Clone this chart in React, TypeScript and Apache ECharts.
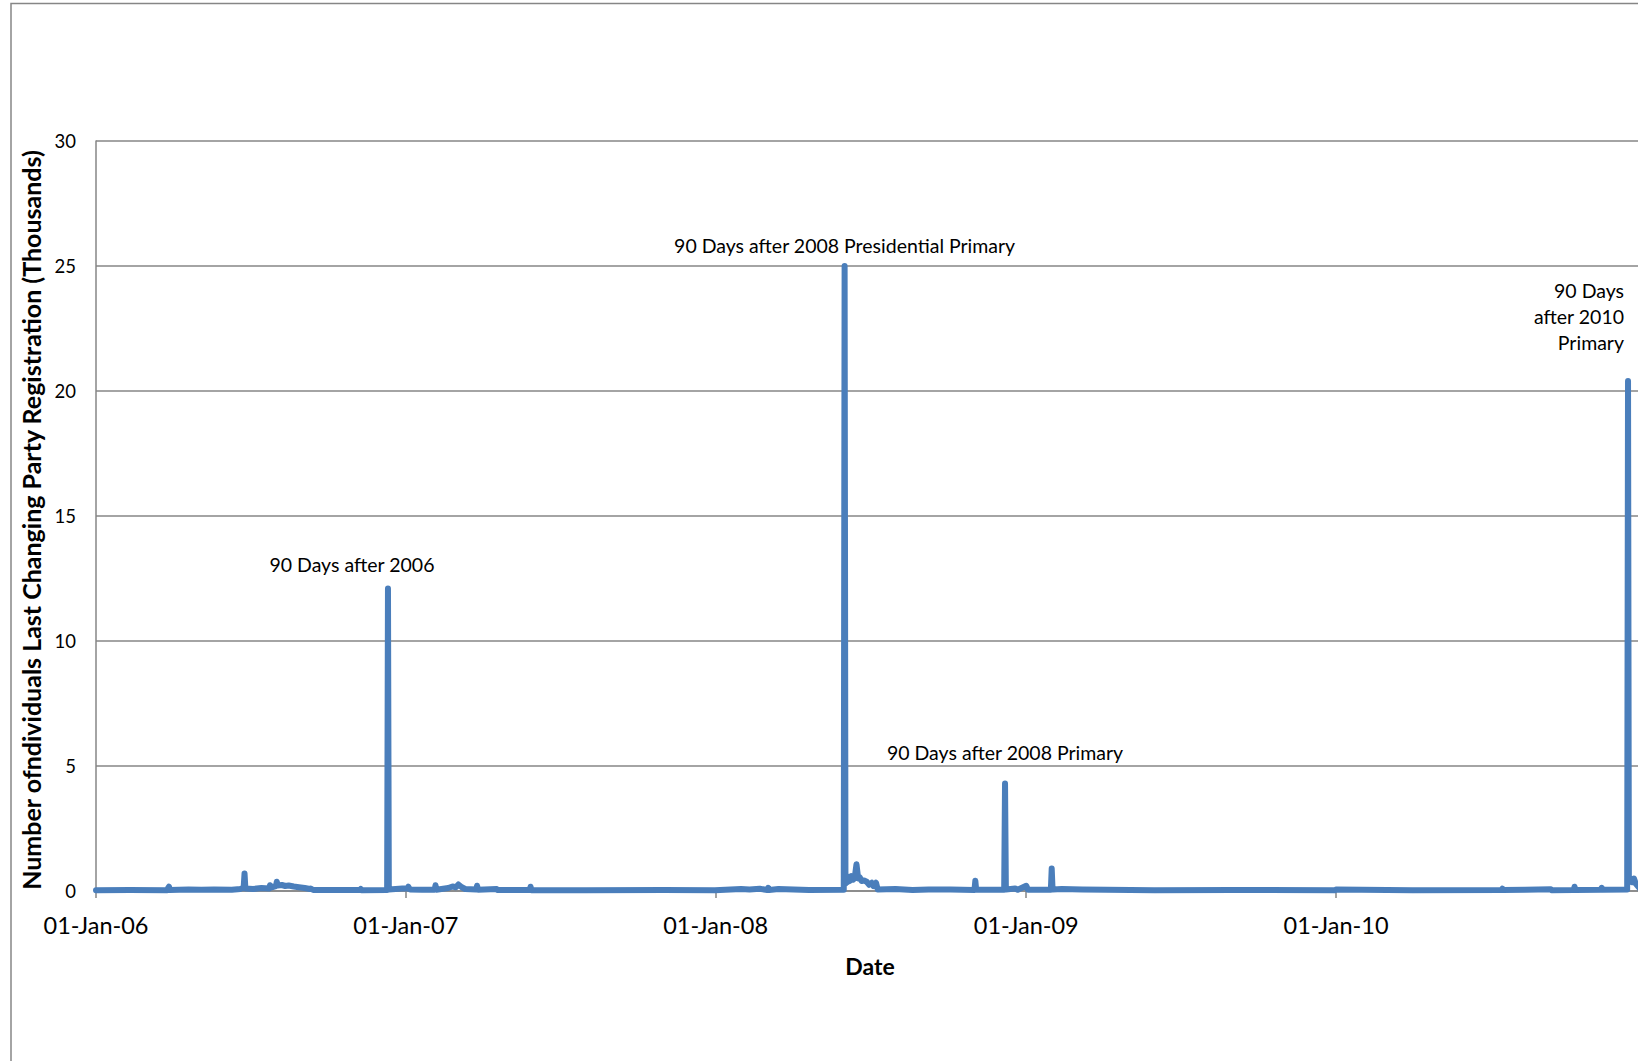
import React, { useEffect, useRef } from "react";
import * as echarts from "echarts";

// Daily counts (thousands) of individuals by the date they last changed party registration.
// Only dates where the count departs from the near-zero baseline are listed.
const points2006: [string, number][] = [
  ["2006-01-01", 0.03], ["2006-02-10", 0.04], ["2006-03-26", 0.03], ["2006-03-27", 0.12],
  ["2006-03-28", 0.17], ["2006-03-29", 0.04], ["2006-04-20", 0.06], ["2006-05-05", 0.05],
  ["2006-05-20", 0.06], ["2006-06-10", 0.05], ["2006-06-20", 0.08], ["2006-06-23", 0.12],
  ["2006-06-24", 0.15], ["2006-06-25", 0.7], ["2006-06-26", 0.1], ["2006-07-05", 0.08],
  ["2006-07-15", 0.12], ["2006-07-24", 0.1], ["2006-07-25", 0.23], ["2006-07-26", 0.14],
  ["2006-07-30", 0.18], ["2006-08-01", 0.2], ["2006-08-02", 0.37], ["2006-08-03", 0.22],
  ["2006-08-08", 0.24], ["2006-08-12", 0.2], ["2006-08-16", 0.22], ["2006-08-22", 0.18],
  ["2006-08-28", 0.15], ["2006-09-04", 0.12], ["2006-09-10", 0.08], ["2006-09-11", 0.1],
  ["2006-09-14", 0.04], ["2006-10-10", 0.04], ["2006-11-08", 0.04], ["2006-11-09", 0.08],
  ["2006-11-10", 0.03], ["2006-12-10", 0.04], ["2006-12-11", 12.1], ["2006-12-12", 0.06],
  ["2006-12-20", 0.08], ["2006-12-28", 0.1],
];

const points2007: [string, number][] = [
  ["2007-01-03", 0.1], ["2007-01-04", 0.17], ["2007-01-06", 0.06], ["2007-01-20", 0.05],
  ["2007-02-04", 0.05], ["2007-02-05", 0.23], ["2007-02-06", 0.05], ["2007-02-20", 0.12],
  ["2007-02-25", 0.18], ["2007-03-01", 0.15], ["2007-03-04", 0.26], ["2007-03-08", 0.15],
  ["2007-03-12", 0.08], ["2007-03-25", 0.06], ["2007-03-26", 0.21], ["2007-03-27", 0.05],
  ["2007-04-18", 0.08], ["2007-04-19", 0.04], ["2007-05-27", 0.04], ["2007-05-28", 0.17],
  ["2007-05-29", 0.03], ["2007-08-01", 0.03], ["2007-11-01", 0.04], ["2007-12-31", 0.03],
];

const points2008: [string, number][] = [
  ["2008-01-31", 0.08], ["2008-02-10", 0.06], ["2008-02-22", 0.09], ["2008-03-02", 0.04],
  ["2008-03-03", 0.13], ["2008-03-04", 0.04], ["2008-03-15", 0.08], ["2008-04-20", 0.04],
  ["2008-05-31", 0.05], ["2008-06-01", 25.0], ["2008-06-02", 0.3], ["2008-06-03", 0.55],
  ["2008-06-04", 0.35], ["2008-06-05", 0.57], ["2008-06-07", 0.4], ["2008-06-09", 0.6],
  ["2008-06-11", 0.45], ["2008-06-13", 0.55], ["2008-06-15", 1.07], ["2008-06-17", 0.5],
  ["2008-06-19", 0.54], ["2008-06-21", 0.4], ["2008-06-24", 0.42], ["2008-06-27", 0.37],
  ["2008-06-30", 0.25], ["2008-07-03", 0.33], ["2008-07-05", 0.2], ["2008-07-08", 0.33],
  ["2008-07-10", 0.06], ["2008-07-31", 0.08], ["2008-08-20", 0.04], ["2008-09-08", 0.06],
  ["2008-10-04", 0.06], ["2008-11-01", 0.04], ["2008-11-02", 0.41], ["2008-11-03", 0.05],
  ["2008-12-06", 0.05], ["2008-12-07", 4.3], ["2008-12-08", 0.06], ["2008-12-19", 0.1],
  ["2008-12-22", 0.05],
];

const points2009: [string, number][] = [
  ["2009-01-01", 0.21], ["2009-01-03", 0.05], ["2009-01-30", 0.05], ["2009-01-31", 0.9],
  ["2009-02-01", 0.06], ["2009-02-12", 0.08], ["2009-03-08", 0.06], ["2009-06-01", 0.03],
  ["2009-09-01", 0.04], ["2009-12-31", 0.03],
];

const points2010: [string, number][] = [
  ["2010-01-01", 0.06], ["2010-04-01", 0.03], ["2010-07-15", 0.04], ["2010-07-16", 0.09],
  ["2010-07-17", 0.04], ["2010-08-12", 0.05], ["2010-09-11", 0.07],
  ["2010-09-12", 0.03], ["2010-10-08", 0.04], ["2010-10-09", 0.17], ["2010-10-10", 0.04],
  ["2010-11-09", 0.05], ["2010-11-10", 0.13], ["2010-11-11", 0.05], ["2010-12-10", 0.06],
  ["2010-12-11", 20.4], ["2010-12-12", 0.4], ["2010-12-14", 0.5], ["2010-12-16", 0.35],
  ["2010-12-18", 0.5], ["2010-12-20", 0.3], ["2010-12-25", 0.1], ["2010-12-31", 0.05],
];

// Annotated peaks: date, value, label text, label placement
const annotations: { date: string; value: number; text: string; align: string; offsetX: number; distance: number }[] = [
  { date: "2006-12-11", value: 12.1, text: "90 Days after 2006", align: "center", offsetX: -36, distance: 11 },
  { date: "2008-06-01", value: 25.0, text: "90 Days after 2008 Presidential Primary", align: "center", offsetX: 0, distance: 8 },
  { date: "2008-12-07", value: 4.3, text: "90 Days after 2008 Primary", align: "center", offsetX: 0, distance: 18 },
  { date: "2010-12-11", value: 20.4, text: "90 Days\nafter 2010\nPrimary", align: "right", offsetX: -4, distance: 26 },
];

const yTicks = { min: 0, max: 30, step: 5 };
const axisStart = "2006-01-01";
const axisEnd = "2010-12-31";
const months = ["Jan", "Feb", "Mar", "Apr", "May", "Jun", "Jul", "Aug", "Sep", "Oct", "Nov", "Dec"];

const yTitle = "Number ofndividuals Last Changing Party Registration (Thousands)";
const xTitle = "Date";

const FONT = "Lato";
const LINE_BLUE = "#4A7EBB";
const GRID_GRAY = "#868686";

function toTime(s: string): number {
  const [y, m, d] = s.split("-").map(Number);
  return new Date(y, m - 1, d).getTime();
}

function formatDay(v: number): string {
  const d = new Date(v);
  if (d.getMonth() !== 0 || d.getDate() !== 1) return "";
  const yy = String(d.getFullYear() % 100).padStart(2, "0");
  return `01-${months[0]}-${yy}`;
}

export default function App() {
  const ref = useRef<HTMLDivElement>(null);

  useEffect(() => {
    if (!ref.current) return;
    const chart = echarts.init(ref.current, null, { renderer: "svg" });

    const data = [...points2006, ...points2007, ...points2008, ...points2009, ...points2010].map(
      ([d, v]) => [toTime(d), v]
    );

    chart.setOption({
      animation: false,
      backgroundColor: "#ffffff",
      grid: { left: 96, top: 141, width: 1549, height: 750, containLabel: false },
      xAxis: {
        type: "time",
        min: toTime(axisStart),
        max: toTime(axisEnd),
        splitNumber: 5,
        minInterval: 365 * 86400000,
        maxInterval: 366 * 86400000,
        splitLine: { show: false },
        axisLine: { show: true, lineStyle: { color: GRID_GRAY, width: 1.5 } },
        axisTick: { show: true, length: 7, lineStyle: { color: GRID_GRAY, width: 1.5 } },
        axisLabel: {
          formatter: (v: number) => formatDay(v),
          fontFamily: FONT,
          fontSize: 23.5,
          color: "#000",
          margin: 22,
          hideOverlap: false,
        },
      },
      yAxis: {
        type: "value",
        min: yTicks.min,
        max: yTicks.max,
        interval: yTicks.step,
        axisLine: { show: true, lineStyle: { color: GRID_GRAY, width: 1.5 } },
        axisTick: { show: false },
        splitLine: { show: true, lineStyle: { color: GRID_GRAY, width: 1.5 } },
        axisLabel: { fontFamily: FONT, fontSize: 18.5, color: "#000", margin: 20 },
      },
      graphic: [
        {
          type: "rect",
          shape: { x: 11, y: 3.5, width: 1800, height: 1200 },
          style: { fill: "none", stroke: GRID_GRAY, lineWidth: 1.5 },
          silent: true,
        },
        {
          type: "text",
          x: 31,
          y: 520,
          rotation: Math.PI / 2,
          style: {
            text: yTitle,
            fontFamily: FONT,
            fontWeight: "bold",
            fontSize: 25,
            fill: "#000",
            align: "center",
            verticalAlign: "middle",
          },
        },
        {
          type: "text",
          x: 870,
          y: 966,
          style: {
            text: xTitle,
            fontFamily: FONT,
            fontWeight: "bold",
            fontSize: 23,
            fill: "#000",
            align: "center",
            verticalAlign: "middle",
          },
        },
      ],
      series: [
        {
          type: "line",
          data,
          showSymbol: false,
          symbol: "none",
          lineStyle: { color: LINE_BLUE, width: 6, cap: "round", join: "round" },
          markPoint: {
            symbol: "circle",
            symbolSize: 0,
            silent: true,
            data: annotations.map((a) => ({
              coord: [toTime(a.date), a.value],
              label: {
                show: true,
                formatter: a.text,
                position: "top",
                distance: a.distance,
                offset: [a.offsetX, 0],
                align: a.align,
                fontFamily: FONT,
                fontSize: 19.5,
                lineHeight: 26,
                color: "#000",
              },
            })),
          },
        },
      ],
    });

    return () => chart.dispose();
  }, []);

  return (
    <div
      style={{
        position: "fixed",
        left: 0,
        top: 0,
        width: 1638,
        height: 1061,
        overflow: "hidden",
        background: "#fff",
      }}
    >
      <div ref={ref} style={{ width: 1700, height: 1100 }} />
    </div>
  );
}
